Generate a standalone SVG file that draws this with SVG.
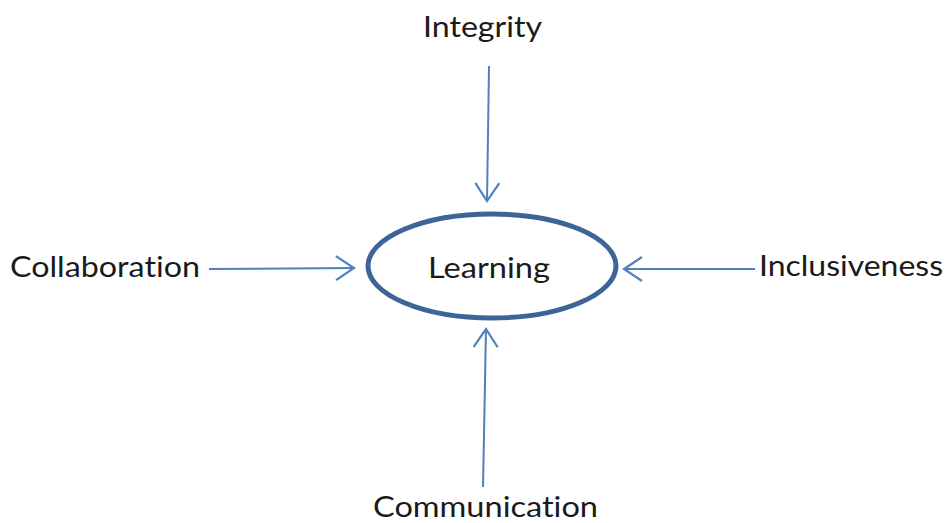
<svg xmlns="http://www.w3.org/2000/svg" width="951" height="523" viewBox="0 0 951 523">
<style>
.lbl{font-family:Lato,"Open Sans","Liberation Sans",sans-serif;font-size:29px;fill:#1a1a1a;font-variant-ligatures:none;font-feature-settings:"liga" 0,"dlig" 0}
.con{stroke:#4f81bd;stroke-width:2;fill:none}
</style>
<defs>
<marker id="ah" markerUnits="userSpaceOnUse" viewBox="-22 -14 24 28" refX="0" refY="0" markerWidth="24" markerHeight="28" orient="auto" overflow="visible">
<path d="M-18,-12 L0,0 L-18,12" fill="none" stroke="#4f81bd" stroke-width="2.2" stroke-linejoin="miter"/>
</marker>
</defs>
<rect width="951" height="523" fill="#ffffff"/>
<g id="connectors">
<line class="con" x1="489" y1="66" x2="487" y2="201" marker-end="url(#ah)"/>
<line class="con" x1="209" y1="269" x2="354" y2="268" marker-end="url(#ah)"/>
<line class="con" x1="755" y1="269" x2="624" y2="269" marker-end="url(#ah)"/>
<line class="con" x1="483" y1="487" x2="486" y2="329" marker-end="url(#ah)"/>
</g>
<g id="learning">
<ellipse cx="492" cy="266" rx="124" ry="52" fill="#ffffff" stroke="#3c6496" stroke-width="5"/>
<text class="lbl" x="428" y="278" textLength="122" lengthAdjust="spacingAndGlyphs">Learning</text>
</g>
<g id="integrity">
<text class="lbl" x="423" y="37" textLength="119" lengthAdjust="spacingAndGlyphs">Integrity</text>
</g>
<g id="collaboration">
<text class="lbl" x="10" y="277" textLength="190" lengthAdjust="spacingAndGlyphs">Collaboration</text>
</g>
<g id="inclusiveness">
<text class="lbl" x="759" y="276" textLength="184" lengthAdjust="spacingAndGlyphs">Inclusiveness</text>
</g>
<g id="communication">
<text class="lbl" x="373" y="517" textLength="225" lengthAdjust="spacingAndGlyphs">Communication</text>
</g>
</svg>
